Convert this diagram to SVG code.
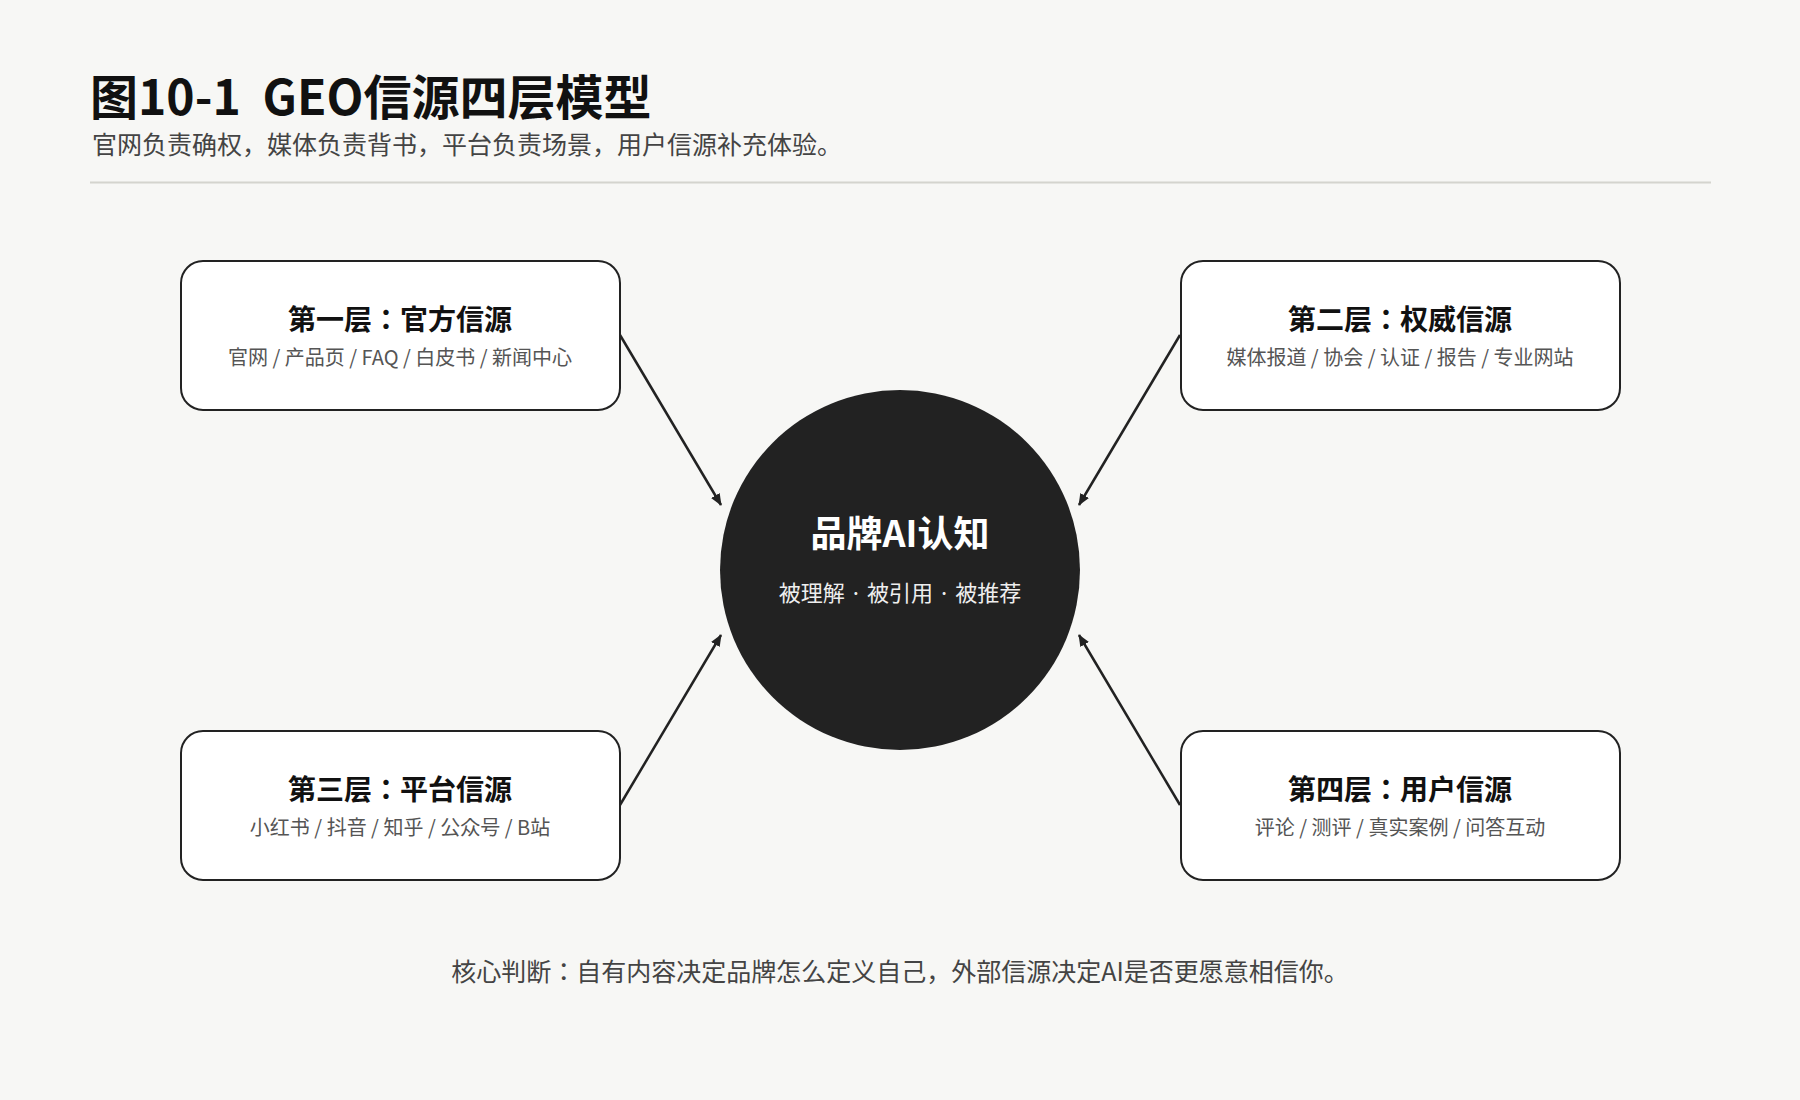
<svg xmlns="http://www.w3.org/2000/svg" width="1800" height="1100" viewBox="0 0 1800 1100">
<defs>
<style>
text{font-family:"Noto Sans CJK JP","Noto Sans CJK SC","Noto Sans",sans-serif;}
.title{font-size:48px;font-weight:700;fill:#111;}
.subtitle{font-size:25px;fill:#444;}
.box{fill:#fff;stroke:#222;stroke-width:2;}
.bt{font-size:28px;font-weight:700;fill:#111;text-anchor:middle;}
.bs{font-size:20px;fill:#555;text-anchor:middle;}
.ct{font-size:36px;font-weight:700;fill:#fff;text-anchor:middle;}
.cs{font-size:22px;fill:#eee;text-anchor:middle;}
.conn{stroke:#222;stroke-width:2.5;fill:none;marker-end:url(#arr);}
.note{font-size:25px;fill:#444;text-anchor:middle;}
</style>
<marker id="arr" viewBox="0 0 12 10" refX="11" refY="5" markerWidth="12" markerHeight="10" markerUnits="userSpaceOnUse" orient="auto">
<path d="M0,0 L12,5 L0,10 Z" fill="#222"/>
</marker>
</defs>
<rect width="1800" height="1100" fill="#f7f7f5"/>
<g id="header">
<text class="title" x="90" y="115" xml:space="preserve">图10-1  GEO信源四层模型</text>
<text class="subtitle" x="92" y="154">官网负责确权，媒体负责背书，平台负责场景，用户信源补充体验。</text>
<line x1="90" y1="182.5" x2="1711" y2="182.5" stroke="#d4d4ce" stroke-width="2"/>
</g>
<g id="connectors">
<line class="conn" x1="620" y1="335" x2="721" y2="505"/>
<line class="conn" x1="1180" y1="335" x2="1079" y2="505"/>
<line class="conn" x1="620" y1="805" x2="721" y2="635"/>
<line class="conn" x1="1180" y1="805" x2="1079" y2="635"/>
</g>
<g id="center">
<circle cx="900" cy="570" r="180" fill="#222"/>
<text class="ct" x="900" y="547">品牌AI认知</text>
<text class="cs" x="900" y="601">被理解 · 被引用 · 被推荐</text>
</g>
<g id="layer1">
<rect class="box" x="181" y="261" width="439" height="149" rx="22"/>
<text class="bt" x="400" y="330">第一层：官方信源</text>
<text class="bs" x="400" y="365">官网 / 产品页 / FAQ / 白皮书 / 新闻中心</text>
</g>
<g id="layer2">
<rect class="box" x="1181" y="261" width="439" height="149" rx="22"/>
<text class="bt" x="1400" y="330">第二层：权威信源</text>
<text class="bs" x="1400" y="365">媒体报道 / 协会 / 认证 / 报告 / 专业网站</text>
</g>
<g id="layer3">
<rect class="box" x="181" y="731" width="439" height="149" rx="22"/>
<text class="bt" x="400" y="800">第三层：平台信源</text>
<text class="bs" x="400" y="835">小红书 / 抖音 / 知乎 / 公众号 / B站</text>
</g>
<g id="layer4">
<rect class="box" x="1181" y="731" width="439" height="149" rx="22"/>
<text class="bt" x="1400" y="800">第四层：用户信源</text>
<text class="bs" x="1400" y="835">评论 / 测评 / 真实案例 / 问答互动</text>
</g>
<g id="footer">
<text class="note" x="900" y="981">核心判断：自有内容决定品牌怎么定义自己，外部信源决定AI是否更愿意相信你。</text>
</g>
</svg>
